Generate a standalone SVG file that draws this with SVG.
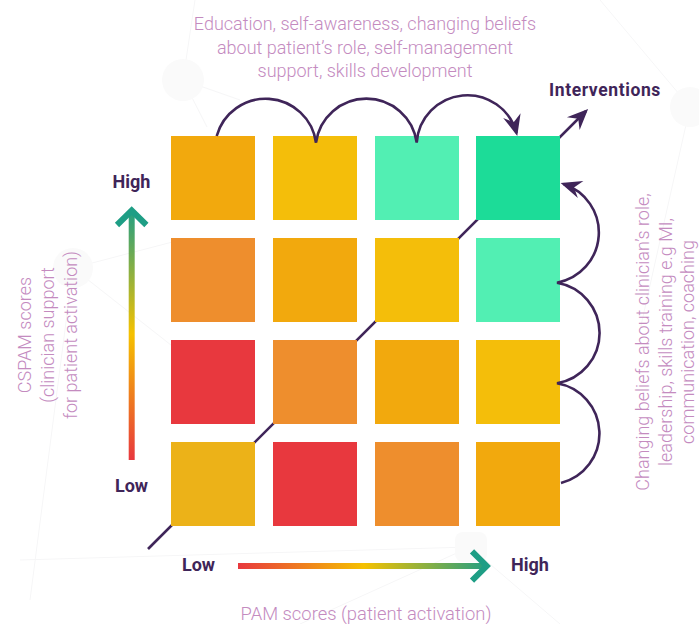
<svg xmlns="http://www.w3.org/2000/svg" width="699" height="624" viewBox="0 0 699 624">
<defs>
<style>
.note{font-family:Roboto,"Liberation Sans",sans-serif;font-weight:300;font-size:18px;fill:#C48BBF}
.lbl{font-family:Roboto,"Liberation Sans",sans-serif;font-weight:700;font-size:18px;fill:#3F2559}
.con{fill:none;stroke:#3F2559;stroke-width:2.6}
.bg{fill:none;stroke:#F6F6F7;stroke-width:1}
.bgc{fill:#FAFAFA}
</style>
<marker id="ah" viewBox="-22 -10 23 20" refX="-3" refY="0" markerWidth="23" markerHeight="20" markerUnits="userSpaceOnUse" orient="auto">
<path d="M0,0 L-21,-9 L-14,0 L-21,9 Z" fill="#3F2559"/>
</marker>
<linearGradient id="gv" gradientUnits="userSpaceOnUse" x1="0" y1="460" x2="0" y2="208">
<stop offset="0" stop-color="#E8383E"/>
<stop offset="0.5" stop-color="#F5C100"/>
<stop offset="1" stop-color="#1E9E85"/>
</linearGradient>
<linearGradient id="gh" gradientUnits="userSpaceOnUse" x1="238" y1="0" x2="490" y2="0">
<stop offset="0" stop-color="#E8383E"/>
<stop offset="0.5" stop-color="#F5C100"/>
<stop offset="1" stop-color="#1E9E85"/>
</linearGradient>
</defs>
<rect width="699" height="624" fill="#FFFFFF"/>
<g id="background">
<path class="bg" d="M183 80 L195 0 M183 80 L240 100 M183 80 L207 127 M73 268 L180 240 M73 268 L190 360 M73 268 L30 600 M690 107 L600 0 M690 107 L640 330 M470 547 L300 624 M470 547 L560 624 M470 547 L20 560"/>
<circle class="bgc" cx="183" cy="80" r="21"/>
<circle class="bgc" cx="73" cy="268" r="20"/>
<circle class="bgc" cx="690" cy="107" r="20"/>
<rect class="bgc" x="455" y="532" width="32" height="30" rx="8"/>
</g>
<g id="connectors">
<path id="diagonal" class="con" d="M148 549 L586 111" marker-end="url(#ah)"/>
</g>
<g id="grid">
<rect id="c11" x="171" y="136" width="84" height="84" fill="#F2A90D"/>
<rect id="c12" x="273" y="136" width="84" height="84" fill="#F4BE0A"/>
<rect id="c13" x="375" y="136" width="84" height="84" fill="#52EFB3"/>
<rect id="c14" x="476" y="136" width="84" height="84" fill="#1CDC98"/>
<rect id="c21" x="171" y="238" width="84" height="84" fill="#EE8E2D"/>
<rect id="c22" x="273" y="238" width="84" height="84" fill="#F2A90D"/>
<rect id="c23" x="375" y="238" width="84" height="84" fill="#F4BE0A"/>
<rect id="c24" x="476" y="238" width="84" height="84" fill="#52EFB3"/>
<rect id="c31" x="171" y="340" width="84" height="84" fill="#E8383E"/>
<rect id="c32" x="273" y="340" width="84" height="84" fill="#EE8E2D"/>
<rect id="c33" x="375" y="340" width="84" height="84" fill="#F2A90D"/>
<rect id="c34" x="476" y="340" width="84" height="84" fill="#F4BE0A"/>
<rect id="c41" x="171" y="442" width="84" height="84" fill="#ECB218"/>
<rect id="c42" x="273" y="442" width="84" height="84" fill="#E8383E"/>
<rect id="c43" x="375" y="442" width="84" height="84" fill="#EE8E2D"/>
<rect id="c44" x="476" y="442" width="84" height="84" fill="#F2A90D"/>
</g>
<g id="arcs">
<path id="top-arcs" class="con" d="M216.7 136 A50.8 50.8 0 0 1 316 142.7 A50.8 50.8 0 0 1 416.7 142.7 A50.8 50.8 0 0 1 516.5 133" marker-end="url(#ah)"/>
<path id="right-arcs" class="con" d="M561 483 A51 51 0 0 0 557 383.3 A51 51 0 0 0 557 282.7 A51 51 0 0 0 563.5 184" marker-end="url(#ah)"/>
</g>
<g id="axis-y">
<path d="M131.7 460 L131.7 212" fill="none" stroke="url(#gv)" stroke-width="6"/>
<path d="M117 225 L131.7 210.5 L146.4 225" fill="none" stroke="#1E9E85" stroke-width="6"/>
<text class="lbl" x="131.5" y="188" text-anchor="middle">High</text>
<text class="lbl" x="131.5" y="492" text-anchor="middle">Low</text>
</g>
<g id="axis-x">
<path d="M238 566 L486 566" fill="none" stroke="url(#gh)" stroke-width="6"/>
<path d="M472 551.3 L486.7 566 L472 580.7" fill="none" stroke="#1E9E85" stroke-width="6"/>
<text class="lbl" x="198.5" y="571" text-anchor="middle">Low</text>
<text class="lbl" x="530" y="571" text-anchor="middle">High</text>
</g>
<g id="labels">
<text class="lbl" x="549" y="96" style="font-size:17.5px;letter-spacing:0.6px">Interventions</text>
<text class="note" text-anchor="middle"><tspan x="365" y="30">Education, self-awareness, changing beliefs</tspan><tspan x="365" y="53.5">about patient’s role, self-management</tspan><tspan x="365" y="77">support, skills development</tspan></text>
<text class="note" x="366" y="620" text-anchor="middle" style="font-size:18.4px">PAM scores (patient activation)</text>
<text class="note" text-anchor="middle" transform="translate(0 335) rotate(-90)"><tspan x="0" y="31">CSPAM scores</tspan><tspan x="0" y="54">(clinician support</tspan><tspan x="0" y="76.5">for patient activation)</tspan></text>
<text class="note" text-anchor="middle" transform="translate(0 342) rotate(-90)"><tspan x="0" y="649">Changing beliefs about clinician’s role,</tspan><tspan x="0" y="671.5">leadership, skills training e.g MI,</tspan><tspan x="0" y="694">communication, coaching</tspan></text>
</g>
</svg>
